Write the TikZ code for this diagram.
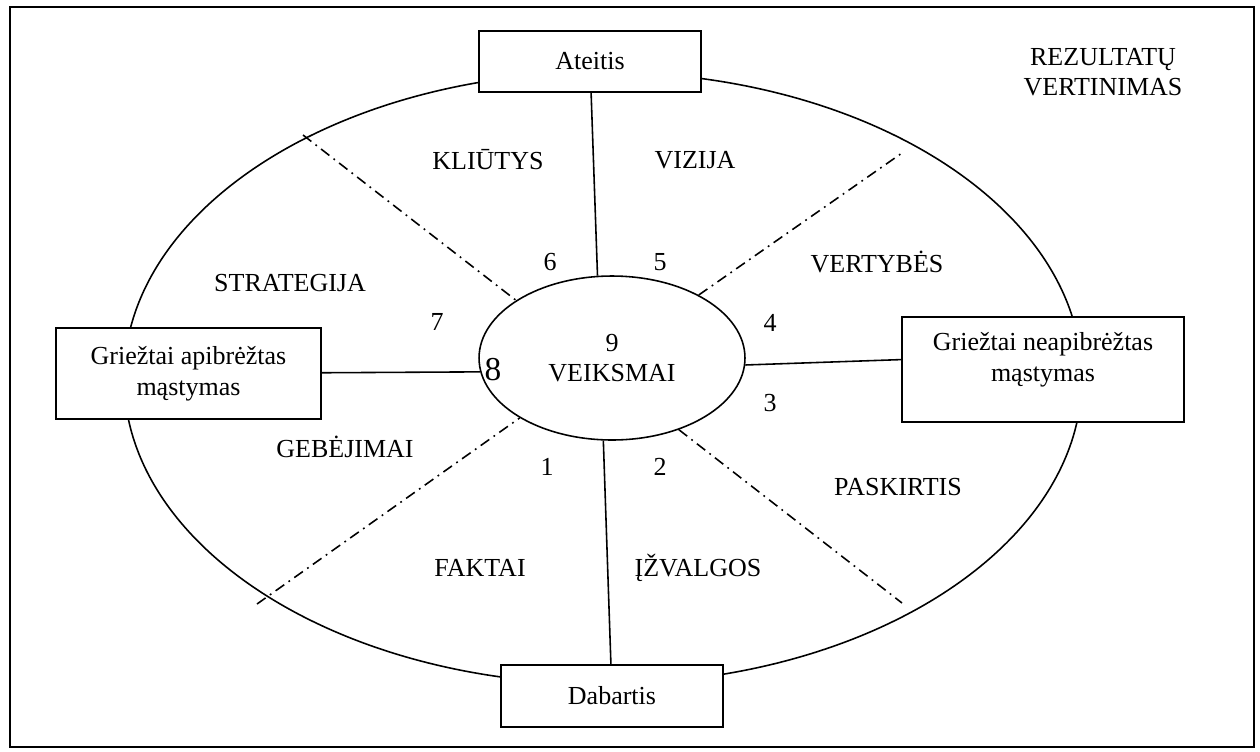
\documentclass[tikz,border=0pt]{standalone}
\usepackage{fontspec}
\setmainfont{Liberation Serif}
\usetikzlibrary{shapes.geometric}

\begin{document}
\begin{tikzpicture}[x=0.02cm, y=-0.02cm, line width=0.9pt,
	font=\fontsize{14.8}{17.5}\selectfont,
	boxnode/.style={draw, fill=white, align=center, inner sep=0pt},
	divider/.style={dash pattern=on 6pt off 3pt on 1pt off 3pt},
	lbl/.style={inner sep=0pt}]
	\useasboundingbox (0,0) rectangle (1260,751);
	%\draw[help lines] (0,0) grid[step=100] (1260,751);
	\draw (10,7) rectangle (1254,747);
	\draw (603,378) ellipse [x radius=9.58cm, y radius=6.12cm];
	\node[boxnode, minimum width=4.44cm, minimum height=1.22cm] (ateitis) at (590,61.5) {Ateitis};
	\node[boxnode, minimum width=4.44cm, minimum height=1.24cm] (dabartis) at (612,696) {Dabartis};
	\node[boxnode, minimum width=5.3cm, minimum height=1.82cm] (apibr) at (188.5,373.5) {Griežtai apibrėžtas\\mąstymas};
	\node[boxnode, minimum width=5.64cm, minimum height=2.1cm] (neapibr) at (1043,369.5) {};
	\node[lbl, align=center] (neapibrtxt) at (1043,360) {Griežtai neapibrėžtas\\mąstymas};
	\node[draw, ellipse, minimum width=5.32cm, minimum height=3.28cm, inner sep=0pt, align=center] (veiksmai) at (612,358) {9\\VEIKSMAI};
	\draw (ateitis) -- (veiksmai.100);
	\draw (veiksmai.264) -- (dabartis);
	\draw (apibr) -- (veiksmai.186);
	\draw (veiksmai.357) -- (neapibr.176);
	% sektoriu ribos
	\coordinate (ul) at (303,135);
	\coordinate (ur) at (902,153);
	\coordinate (dl) at (257,604);
	\coordinate (dr) at (902,603);
	\draw[divider] (ul) -- (veiksmai.149);
	\draw[divider] (veiksmai.36) -- (ur);
	\draw[divider] (dl) -- (veiksmai.213);
	\draw[divider] (veiksmai.313) -- (dr);
	\node[lbl, align=center] (rezult) at (1103,72) {REZULTATŲ\\VERTINIMAS};
	\node[lbl] (kliutys) at (488,160) {KLIŪTYS};
	\node[lbl] (vizija) at (695,160) {VIZIJA};
	\node[lbl] (vertybes) at (877,262) {VERTYBĖS};
	\node[lbl] (strategija) at (290,283) {STRATEGIJA};
	\node[lbl] (gebejimai) at (345,447) {GEBĖJIMAI};
	\node[lbl] (paskirtis) at (898,487) {PASKIRTIS};
	\node[lbl] (faktai) at (480,568) {FAKTAI};
	\node[lbl] (izvalgos) at (698,568) {ĮŽVALGOS};
	\node[lbl] (n1) at (547,467) {1};
	\node[lbl] (n2) at (660,467) {2};
	\node[lbl] (n3) at (770,403) {3};
	\node[lbl] (n4) at (770,323) {4};
	\node[lbl] (n5) at (660,262) {5};
	\node[lbl] (n6) at (550,262) {6};
	\node[lbl] (n7) at (437,322) {7};
	\node[lbl, font=\fontsize{19}{22}\selectfont] (n8) at (493,370) {8};
\end{tikzpicture}
\end{document}
